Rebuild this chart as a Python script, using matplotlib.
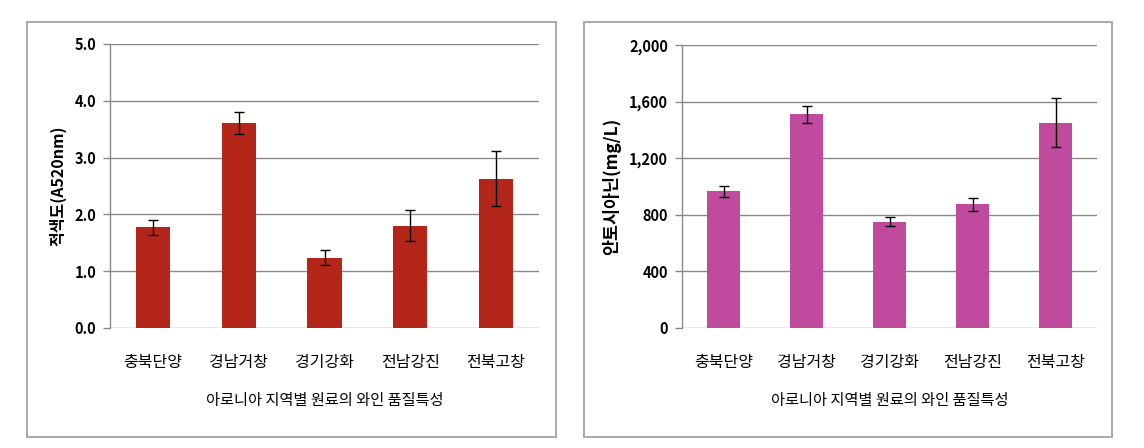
import matplotlib
matplotlib.use("Agg")
import matplotlib.pyplot as plt
from matplotlib.patches import Rectangle
from matplotlib.ticker import FuncFormatter

plt.rcParams['font.family'] = ['Noto Sans CJK KR', 'DejaVu Sans']

categories = ['충북단양', '경남거창', '경기강화', '전남강진', '전북고창']
color_values = [1.77, 3.61, 1.24, 1.80, 2.63]
color_errors = [0.14, 0.20, 0.13, 0.27, 0.49]
antho_values = [966, 1509, 752, 874, 1450]
antho_errors = [40, 57, 30, 47, 173]
xlabel_text = '아로니아 지역별 원료의 와인 품질특성'
left_ylabel = '적색도(A520nm)'
right_ylabel = '안토시아닌(mg/L)'

W, H = 1144, 448
fig = plt.figure(figsize=(W / 100, H / 100), dpi=100)
fig.patch.set_facecolor('white')


def px_rect(x0, y0, x1, y1):
    return [x0 / W, 1 - y1 / H, (x1 - x0) / W, (y1 - y0) / H]


# panel frames
for (x0, y0, x1, y1) in [(27, 22, 556, 437), (584, 22, 1112, 437)]:
    r = px_rect(x0, y0, x1, y1)
    fig.patches.append(Rectangle((r[0], r[1]), r[2], r[3], transform=fig.transFigure,
                                 fill=False, edgecolor='#a8a8a8', linewidth=1.4))


def make_panel(rect, values, errors, color, ylim, yticks, fmt, ylabel, ylsize):
    ax = fig.add_axes(px_rect(*rect))
    x = list(range(len(categories)))
    ax.bar(x, values, width=0.4, color=color, zorder=3)
    ax.errorbar(x, values, yerr=errors, fmt='none', ecolor='black',
                elinewidth=1.0, capsize=3.5, capthick=1.0, zorder=4)
    ax.set_xlim(-0.5, len(categories) - 0.5)
    ax.set_ylim(*ylim)
    ax.set_yticks(yticks)
    ax.yaxis.set_major_formatter(FuncFormatter(fmt))
    ax.yaxis.grid(True, color='#8a8a8a', linewidth=1.0, zorder=0)
    ax.set_axisbelow(True)
    for s in ['top', 'right', 'bottom']:
        ax.spines[s].set_visible(False)
    ax.spines['left'].set_color('#8a8a8a')
    ax.spines['left'].set_linewidth(1.0)
    ax.tick_params(axis='y', length=5, width=1.0, color='#8a8a8a', pad=5,
                   labelsize=10.5)
    for lab in ax.get_yticklabels():
        lab.set_fontweight('bold')
    ax.set_xticks(x)
    ax.set_xticklabels(categories, fontsize=11.5)
    ax.tick_params(axis='x', length=0, pad=19)
    ax.set_xlabel(xlabel_text, fontsize=11, labelpad=15)
    ax.set_ylabel(ylabel, fontsize=ylsize, fontweight='bold', labelpad=6)
    return ax


make_panel((110, 44, 539, 328), color_values, color_errors, '#B4261A',
           (0, 5), [0, 1, 2, 3, 4, 5], lambda v, p: f'{v:.1f}', left_ylabel, 11.5)
make_panel((682, 45, 1097, 328), antho_values, antho_errors, '#C04A9E',
           (0, 2000), [0, 400, 800, 1200, 1600, 2000], lambda v, p: f'{int(v):,}',
           right_ylabel, 12.5)

fig.savefig('out.png', dpi=100)
